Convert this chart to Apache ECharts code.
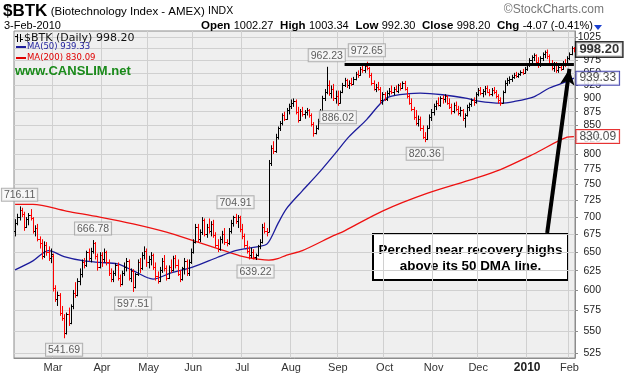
<!DOCTYPE html>
<html><head><meta charset="utf-8">
<script src="https://cdn.jsdelivr.net/npm/echarts@6/dist/echarts.min.js"></script>
<style>html,body{margin:0;padding:0;background:#fff}#c{width:629px;height:375px}</style>
</head><body><div id="c"></div>
<script>
// ---- categories (trading days) ----
const startDate = '2009-02-04';
const endDate = '2010-02-03';
const holidays = ['2009-02-16','2009-04-10','2009-05-25','2009-07-03','2009-09-07','2009-11-26','2009-12-25','2010-01-01','2010-01-18'];
const monthNames = ['Jan','Feb','Mar','Apr','May','Jun','Jul','Aug','Sep','Oct','Nov','Dec'];

// ---- daily OHLC ----
const openP = [
 680,692,700,710,705,686,697,703,698,680,684,668,662,645,660,650,642,
 645,602,588,594,572,566,548,570,560,580,596,594,612,620,636,632,650,642,652,662,645,630,
 646,640,650,636,622,614,622,632,616,608,622,630,638,615,624,604,620,636,628,646,652,
 636,640,646,630,618,612,626,638,628,616,630,626,642,632,620,614,628,638,622,636,
 650,664,686,668,678,696,676,686,680,690,674,660,654,668,676,664,662,680,692,700,694,700,
 682,672,660,652,646,650,644,646,658,664,686,680,678,785,810,805,830,845,855,868,862,878,
 885,892,895,875,860,876,870,874,878,868,852,836,846,858,876,900,912,925,910,918,900,
 905,892,912,926,936,925,930,928,938,948,945,958,955,964,960,945,930,918,922,918,896,
 908,898,910,915,912,918,914,925,920,930,918,904,892,880,866,855,862,845,830,826,846,866,
 874,886,892,888,900,898,904,892,884,876,888,880,872,878,864,868,884,890,896,894,
 908,916,910,914,920,912,908,916,912,904,896,892,912,930,936,938,942,946,944,948,952,950,
 958,966,976,982,986,972,966,980,988,992,984,970,960,968,956,962,958,970,966,
 980,988,1002.27];
const highP = [
 697,705,716.11,714,708,700,706,712,700,688,690,672,668,665,664,658,655,
 648,606,598,596,580,570,572,578,582,600,610,615,628,640,642,652,655,656,666.78,664,648,650,
 650,655,652,640,628,625,635,636,620,625,636,642,640,628,627,622,640,642,650,658,655,
 645,650,648,636,624,630,642,646,632,632,640,645,646,640,626,630,642,640,640,655,
 668,690,690,682,700,698,690,698,694,696,678,668,672,680,684,668,684,696,702,704.91,703,702,
 690,676,666,658,656,654,648,660,668,690,692,684,790,815,822,835,848,858,872,875,882,890,
 898,900,898,884,880,884,878,882,880,872,856,850,862,880,905,918,962.23,935,925,928,915,
 915,915,930,940,938,935,940,942,952,955,962,966,968,972.65,962,950,935,928,932,922,912,
 912,915,920,925,922,925,928,930,933,934,922,908,900,884,878,868,866,850,838,850,870,880,
 890,896,902,904,906,908,906,900,890,892,894,886,884,880,872,888,892,900,902,912,
 920,922,918,924,925,918,920,922,916,908,902,915,935,940,943,946,950,952,950,955,958,962,
 970,980,986,990,988,982,984,992,996,998,988,976,972,972,966,970,974,978,984,
 992,1005,1003.34];
const lowP = [
 672,688,695,700,680,684,688,695,676,672,665,655,640,642,645,638,635,
 598,585,580,568,562,541.69,546,556,558,576,590,592,606,616,628,630,638,636,648,640,625,628,
 630,636,632,618,610,610,618,612,604,606,618,624,612,610,597.51,602,618,622,626,640,630,
 628,632,626,612,608,610,622,624,612,614,622,624,628,618,610,612,620,618,618,634,
 648,662,664,664,674,672,670,676,672,670,656,650,652,662,660,658,660,676,686,690,684,678,
 668,656,648,640,642,640,639.22,644,654,662,676,672,678,780,800,802,825,840,850,858,860,870,
 880,884,870,855,858,866,862,868,864,848,830,834,842,855,874,895,908,905,900,895,890,
 886.02,890,910,922,920,918,924,926,935,940,944,950,950,955,940,925,915,912,915,890,888,
 895,895,905,908,906,912,910,915,918,915,900,888,876,860,850,848,840,826,820.36,824,844,858,
 868,878,885,884,890,892,888,880,870,872,876,868,866,858,846,866,876,884,886,890,
 904,906,902,906,910,904,904,908,900,890,886,890,910,924,928,932,938,940,940,944,946,948,
 954,962,968,974,966,960,962,974,980,978,966,955,952,950,950,954,956,962,964,
 976,986,992.30];
const closeP = [
 692,700,710,705,686,697,703,698,680,684,668,662,645,660,650,642,648,
 602,588,594,572,566,548,570,560,580,596,594,612,620,636,632,650,642,652,662,645,630,646,
 640,650,636,622,614,622,632,616,608,622,630,638,615,624,604,620,636,628,646,652,636,
 640,646,630,618,612,626,638,628,616,630,626,642,632,620,614,628,638,622,636,650,
 664,686,668,678,696,676,686,680,690,674,660,654,668,676,664,662,680,692,700,694,700,682,
 672,660,652,646,650,644,646,658,664,686,680,678,785,810,805,830,845,855,868,862,878,885,
 892,895,875,860,876,870,874,878,868,852,836,846,858,876,900,912,925,910,918,900,905,
 892,912,926,936,925,930,928,938,948,945,958,955,964,960,945,930,918,922,918,896,908,
 898,910,915,912,918,914,925,920,930,918,904,892,880,866,855,862,845,830,826,846,866,874,
 886,892,888,900,898,904,892,884,876,888,880,872,878,864,868,884,890,896,894,908,
 916,910,914,920,912,908,916,912,904,896,892,912,930,936,938,942,946,944,948,952,950,958,
 966,976,982,986,972,966,980,988,992,984,970,960,968,956,962,958,970,966,980,
 988,1002.27,998.20];

// ---- moving averages (at these bar indices) ----
const ma50Idx = [0,8,15,22,31,38,46,53,62,70,80,91,99,104,110,113,115,118,122,129,136,144,150,158,164,168,177,182,192,203,208,218,224,233,240,248,251];
const ma50Val = [626,638,652,644,638,636,634,625,614,622,630,643,652,655,658,661,670,690,713,740,767,802,830,861,890,903,909,910,907,900,895,891,894,903,920,933,939.33];
const ma200Idx = [0,8,23,38,53,68,80,91,101,110,114,118,122,129,143,148,165,185,206,218,233,248,251];
const ma200Val = [719,719,709,700,690,678,666,655,645,640,639,641,646,652,673,680,709,736,759,774,800,829,830.09];

// ---- axis ticks ----
const yTicks = [525,550,575,600,625,650,675,700,725,750,775,800,825,850,875,900,925,950,975,1000,1025];

// ---- annotations ----
const noteIdx = [2,35,53,22,99,108,140,158,145,184];
const notePrice = [716.11,666.78,597.51,541.69,704.91,639.22,962.23,972.65,886.02,820.36];
const notePos = ['top','top','bottom','bottom','top','bottom','top','top','bottom','bottom'];
const resistanceLevel = 968;
const resistanceFrom = 148;
const arrowFrom = [239, 677];
const arrowTo = [248.5, 958];
const tagValues = [998.20, 939.33, 830.09];
const tagColors = ['#000000', '#1c1c9c', '#e00000'];

// ---- build ----
function tradingDays(s, e, hol) {
  const out = [];
  const d = new Date(s + 'T00:00:00Z');
  const end = new Date(e + 'T00:00:00Z');
  while (d <= end) {
    const wd = d.getUTCDay();
    const iso = d.toISOString().slice(0, 10);
    if (wd !== 0 && wd !== 6 && hol.indexOf(iso) < 0) out.push(iso);
    d.setUTCDate(d.getUTCDate() + 1);
  }
  return out;
}
const dates = tradingDays(startDate, endDate, holidays);
const monthStart = new Set();
for (let i = 1; i < dates.length; i++) if (dates[i].slice(5, 7) !== dates[i - 1].slice(5, 7)) monthStart.add(i);
const bars = dates.map((d, i) => [i, openP[i], highP[i], lowP[i], closeP[i], (i > 0 && closeP[i] < closeP[i - 1]) ? 1 : 0]);
const lastIdx = dates.length - 1;

const chart = echarts.init(document.getElementById('c'), null, {renderer: 'canvas'});
const F = '"Liberation Sans", Arial, sans-serif';
const FV = '"DejaVu Sans", Verdana, sans-serif';

chart.setOption({
  animation: false,
  backgroundColor: '#ffffff',
  grid: {left: 14, right: 54, top: 31, bottom: 17, show: true, backgroundColor: '#efefef', borderColor: '#8c8c8c', borderWidth: 1},
  xAxis: {
    type: 'category', data: dates, boundaryGap: true,
    axisLine: {show: true, lineStyle: {color: '#8c8c8c'}},
    axisTick: {show: false},
    axisLabel: {
      interval: (i) => monthStart.has(i), margin: 4, color: '#333', fontSize: 11, fontFamily: F,
      formatter: (v) => { const m = +v.slice(5, 7); return m === 1 ? '{b|' + v.slice(0, 4) + '}' : monthNames[m - 1]; },
      rich: {b: {fontWeight: 'bold', fontSize: 12, color: '#222', fontFamily: F}}
    },
    splitLine: {show: true, interval: (i) => monthStart.has(i), lineStyle: {color: '#d0d0d0', width: 1}}
  },
  yAxis: {
    type: 'log', logBase: 10, position: 'right', min: 519.5, max: 1038,
    axisLine: {show: true, lineStyle: {color: '#8c8c8c'}},
    axisTick: {show: true, customValues: yTicks, length: 3, lineStyle: {color: '#8c8c8c'}},
    axisLabel: {customValues: yTicks, color: '#222', fontSize: 10.5, fontFamily: F, align: 'right', margin: 26,
      formatter: (v) => String(Math.round(v))},
    splitLine: {show: true, lineStyle: {color: '#d0d0d0', width: 1}}
  },
  series: [
    {
      type: 'line', name: 'MA200', data: ma200Idx.map((ix, k) => [ix, ma200Val[k]]),
      smooth: 0.3, showSymbol: false, lineStyle: {color: '#ee1111', width: 1.3}, z: 2, silent: true
    },
    {
      type: 'line', name: 'MA50', data: ma50Idx.map((ix, k) => [ix, ma50Val[k]]),
      smooth: 0.3, showSymbol: false, lineStyle: {color: '#1c1c9c', width: 1.3}, z: 2, silent: true
    },
    {
      type: 'custom', name: 'BTK', data: bars, encode: {x: 0, y: [1, 2, 3, 4]}, clip: true, z: 3, silent: true,
      renderItem: (params, api) => {
        const i = api.value(0);
        const pO = api.coord([i, api.value(1)]);
        const pH = api.coord([i, api.value(2)]);
        const pL = api.coord([i, api.value(3)]);
        const pC = api.coord([i, api.value(4)]);
        const x = Math.round(pH[0]) + 0.5;
        const color = api.value(5) ? '#ff0000' : '#000000';
        const st = {stroke: color, lineWidth: 1, fill: null};
        return {type: 'group', children: [
          {type: 'line', shape: {x1: x, y1: pH[1], x2: x, y2: pL[1]}, style: st},
          {type: 'line', shape: {x1: x - 1.5, y1: Math.round(pO[1]) + 0.5, x2: x, y2: Math.round(pO[1]) + 0.5}, style: st},
          {type: 'line', shape: {x1: x, y1: Math.round(pC[1]) + 0.5, x2: x + 1.5, y2: Math.round(pC[1]) + 0.5}, style: st}
        ]};
      }
    },
    {
      type: 'line', name: 'marks', data: [], silent: true, z: 6,
      markLine: {
        silent: true, animation: false, label: {show: false}, symbol: ['none', 'none'],
        data: [
          [{coord: [resistanceFrom, resistanceLevel], lineStyle: {color: '#000', width: 3, type: 'solid'}}, {coord: [lastIdx, resistanceLevel]}],
          [{coord: arrowFrom, symbol: 'none', lineStyle: {color: '#000', width: 4, type: 'solid'}}, {coord: arrowTo, symbol: 'arrow', symbolSize: [11, 16]}]
        ]
      }
    },
    {
      type: 'scatter', name: 'notes', symbolSize: 1, itemStyle: {color: 'rgba(0,0,0,0)'}, z: 7, silent: true,
      data: noteIdx.map((ix, k) => ({value: [ix, notePrice[k]], label: {position: notePos[k]}})),
      label: {show: true, formatter: (p) => p.value[1].toFixed(2), distance: 5, fontSize: 10.5, fontFamily: F, color: '#333',
        backgroundColor: '#f8f8f8', borderColor: '#a0a0a0', borderWidth: 1, padding: [1, 2, 0, 2]}
    },
    {
      type: 'scatter', name: 'tags', symbolSize: 1, itemStyle: {color: 'rgba(0,0,0,0)'}, z: 9, silent: true,
      data: tagValues.map((v, k) => ({value: [lastIdx, v], label: {borderColor: tagColors[k], color: k === 0 ? '#000' : '#222',
        fontWeight: k === 0 ? 'bold' : 'normal', fontSize: k === 0 ? 13 : 12, borderWidth: k === 0 ? 1.5 : 1}})),
      label: {show: true, position: 'right', distance: 2, formatter: (p) => p.value[1].toFixed(2), fontFamily: F,
        backgroundColor: '#ffffff', padding: [1, 3, 0, 3]}
    }
  ],
  graphic: [
    {type: 'text', left: 3, top: 3, style: {text: '{a|$BTK} {b|(Biotechnology Index - AMEX)} {c|INDX}', rich: {
      a: {font: 'bold 17px ' + F, fill: '#000'}, b: {font: '11.5px ' + F, fill: '#000'}, c: {font: '10.5px ' + F, fill: '#000'}}}},
    {type: 'text', left: 4, top: 20, style: {text: '3-Feb-2010', font: '11px ' + F, fill: '#000'}},
    {type: 'text', right: 36, top: 20, style: {
      text: '{l|Open} {v|1002.27}  {l|High} {v|1003.34}  {l|Low} {v|992.30}  {l|Close} {v|998.20}  {l|Chg} {v|-4.07 (-0.41%)}',
      rich: {l: {font: 'bold 11.5px ' + F, fill: '#000'}, v: {font: '11px ' + F, fill: '#000'}}}},
    {type: 'polygon', shape: {points: [[594, 25], [602, 25], [598, 30]]}, style: {fill: '#1a3fd0'}},
    {type: 'text', right: 25, top: 4, style: {text: '\u00a9StockCharts.com', font: '12px ' + F, fill: '#777'}},
    // legend
    {type: 'line', z: 30, shape: {x1: 17.5, y1: 34, x2: 17.5, y2: 42}, style: {stroke: '#000', lineWidth: 1}},
    {type: 'line', z: 30, shape: {x1: 15, y1: 36.5, x2: 17.5, y2: 36.5}, style: {stroke: '#000', lineWidth: 1}},
    {type: 'line', z: 30, shape: {x1: 20.5, y1: 34, x2: 20.5, y2: 42}, style: {stroke: '#000', lineWidth: 1}},
    {type: 'line', z: 30, shape: {x1: 20.5, y1: 39.5, x2: 23, y2: 39.5}, style: {stroke: '#000', lineWidth: 1}},
    {type: 'text', z: 30, left: 24, top: 33, style: {text: '$BTK (Daily) 998.20', font: '11px ' + FV, fill: '#111'}},
    {type: 'rect', z: 30, shape: {x: 16, y: 46, width: 10, height: 2}, style: {fill: '#1c1c9c'}},
    {type: 'text', z: 30, left: 27, top: 42, style: {text: 'MA(50) 939.33', font: '8.5px ' + FV, fill: '#1c1c9c'}},
    {type: 'rect', z: 30, shape: {x: 16, y: 57, width: 10, height: 2}, style: {fill: '#e00000'}},
    {type: 'text', z: 30, left: 27, top: 53, style: {text: 'MA(200) 830.09', font: '8.5px ' + FV, fill: '#e00000'}},
    {type: 'text', z: 30, left: 15, top: 65, style: {text: 'www.CANSLIM.net', font: 'bold 13px ' + F, fill: '#1a8a1a'}},
    // annotation box
    {type: 'group', left: 372, top: 233, z: 20, children: [
      {type: 'rect', shape: {x: 1, y: 1, width: 195, height: 46}, style: {fill: '#fff', stroke: '#000', lineWidth: 2}},
      {type: 'text', style: {x: 98.5, y: 17, text: 'Perched near recovery highs', align: 'center', verticalAlign: 'middle', font: 'bold 13.4px ' + F, fill: '#000'}},
      {type: 'text', style: {x: 98.5, y: 33, text: 'above its 50 DMA line.', align: 'center', verticalAlign: 'middle', font: 'bold 13.4px ' + F, fill: '#000'}}
    ]}
  ]
});
</script>
</body></html>
